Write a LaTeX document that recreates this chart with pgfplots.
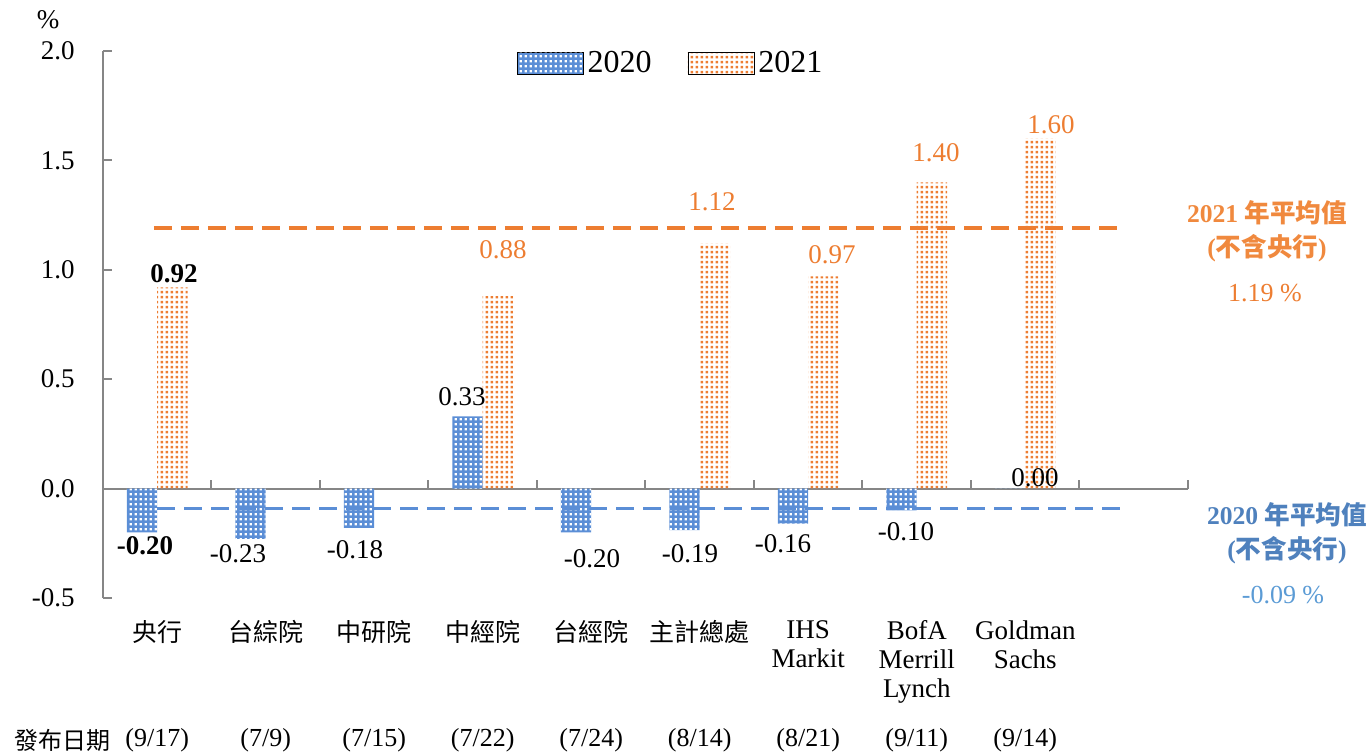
\documentclass[border=0pt]{standalone}
\usepackage{pgfplots}
\pgfplotsset{compat=1.18}
\usepackage{fontspec}
\setmainfont{Liberation Serif}
\newfontfamily\cjk{Noto Sans CJK TC}
\usetikzlibrary{patterns.meta}
\definecolor{barblue}{RGB}{91,142,214}
\definecolor{barorange}{RGB}{237,125,49}
\definecolor{axgray}{RGB}{134,134,134}
\definecolor{annblue}{RGB}{79,129,189}
\definecolor{lblblue}{RGB}{91,155,213}
\definecolor{annorange}{RGB}{240,137,62}
\tikzdeclarepattern{
  name=sqdots,
  type=uncolored,
  bounding box={(0,0) and (2.6pt,2.6pt)},
  tile size={(2.6pt,2.6pt)},
  code={\pgfpathrectangle{\pgfpoint{0.4pt}{0.4pt}}{\pgfpoint{1.25pt}{1.25pt}}\pgfusepath{fill}}
}
\tikzdeclarepattern{
  name=sqdotsb,
  type=uncolored,
  bounding box={(0,0) and (2.5pt,2.5pt)},
  tile size={(2.5pt,2.5pt)},
  code={\pgfpathrectangle{\pgfpoint{0.3pt}{0.3pt}}{\pgfpoint{1.5pt}{1.5pt}}\pgfusepath{fill}}
}
\pgfplotsset{
  mylegend/.style={legend image code/.code={\draw[##1] (0pt,-5.5pt) rectangle (33pt,5.5pt);}},
}
\tikzset{lbl/.style={font=\fontsize{13.5}{16}\selectfont}}
\begin{document}
\begin{tikzpicture}
\path[use as bounding box] (-51.5pt,-78pt) rectangle (634.5pt,299pt);
\begin{axis}[
  at={(0pt,0pt)}, anchor=south west,
  scale only axis, width=542.5pt, height=273.5pt,
  xmin=-0.5, xmax=9.5, ymin=-0.5, ymax=2.0,
  axis lines*=left,
  x axis line style={draw=none},
  y axis line style={axgray, line width=1pt},
  ytick={-0.5,0,0.5,1,1.5,2},
  yticklabels={-0.5,0.0,0.5,1.0,1.5,2.0},
  ytick style={axgray, line width=1pt},
  tick align=inside,
  major tick length=4.5pt,
  yticklabel style={anchor=east, inner sep=0pt, xshift=-14pt, font=\fontsize{13.5}{16}\selectfont},
  xtick={0,...,8},
  xticklabels={{\cjk\fontsize{12.5}{14.5}\selectfont 央行},{\cjk\fontsize{12.5}{14.5}\selectfont 台綜院},{\cjk\fontsize{12.5}{14.5}\selectfont 中研院},{\cjk\fontsize{12.5}{14.5}\selectfont 中經院},{\cjk\fontsize{12.5}{14.5}\selectfont 台經院},{\cjk\fontsize{12.5}{14.5}\selectfont 主計總處},{IHS\\Markit},{BofA\\Merrill\\Lynch},{Goldman\\Sachs}},
  xtick style={draw=none},
  xticklabel style={anchor=north, inner sep=0pt, yshift=-11pt, align=center, font=\fontsize{13.5}{14.5}\selectfont},
  clip=false,
  legend style={draw=none, fill=none, at={(rel axis cs:0.524,0.978)}, anchor=center, legend columns=2,
    font=\fontsize{16}{18}\selectfont, /tikz/every even column/.append style={column sep=16pt}},
]
\draw[axgray, line width=1pt] (axis cs:-0.5,0) -- (axis cs:9.5,0);
\pgfplotsinvokeforeach{0.5,1.5,2.5,3.5,4.5,5.5,6.5,7.5,8.5,9.5}{
  \draw[axgray, line width=1pt] (axis cs:#1,0) -- (axis cs:#1,0.04);
}
\addplot[ybar, mylegend, bar width=0.28, bar shift=-0.14, draw=none, fill=barblue,
  postaction={pattern=sqdots, pattern color=white}]
  coordinates {(0,-0.20) (1,-0.23) (2,-0.18) (3,0.33) (4,-0.20) (5,-0.19) (6,-0.16) (7,-0.10) (8,0.00)};
\addlegendentry{2020}
\addplot[ybar, mylegend, bar width=0.28, bar shift=0.14, draw=none,
  pattern=sqdotsb, pattern color=barorange]
  coordinates {(0,0.92) (3,0.88) (5,1.12) (6,0.97) (7,1.40) (8,1.60)};
\addlegendentry{2021}
\addplot[barorange, line width=2pt, dash pattern=on 9pt off 4.5pt, forget plot]
  coordinates {(-0.03,1.19) (8.92,1.19)};
\addplot[barblue, line width=1.6pt, dash pattern=on 9pt off 4.5pt, forget plot]
  coordinates {(0,-0.09) (8.92,-0.09)};
% 2020 labels
\node[font=\bfseries\fontsize{13.5}{16}\selectfont] at (axis cs:-0.113,-0.26) {-0.20};
\node[lbl] at (axis cs:0.744,-0.297) {-0.23};
\node[lbl] at (axis cs:1.823,-0.279) {-0.18};
\node[lbl] at (axis cs:2.809,0.42) {0.33};
\node[lbl] at (axis cs:4.007,-0.32) {-0.20};
\node[lbl] at (axis cs:4.910,-0.297) {-0.19};
\node[lbl] at (axis cs:5.767,-0.251) {-0.16};
\node[lbl] at (axis cs:6.901,-0.197) {-0.10};
\node[lbl] at (axis cs:8.09,0.05) {0.00};
% 2021 labels
\node[font=\bfseries\fontsize{13.5}{16}\selectfont] at (axis cs:0.154,0.983) {0.92};
\node[lbl, barorange] at (axis cs:3.187,1.092) {0.88};
\node[lbl, barorange] at (axis cs:5.113,1.311) {1.12};
\node[lbl, barorange] at (axis cs:6.219,1.069) {0.97};
\node[lbl, barorange] at (axis cs:7.177,1.536) {1.40};
\node[lbl, barorange] at (axis cs:8.237,1.664) {1.60};
\end{axis}
\node[font=\fontsize{13.5}{16}\selectfont] at (-27.5pt,289pt) {\%};
% dates
\node[font=\fontsize{12}{14}\selectfont\cjk] at (-20.5pt,-71pt) {發布日期};
\begin{scope}[every node/.style={font=\fontsize{13}{15}\selectfont}]
\node at (27.125pt,-71pt) {(9/17)};
\node at (81.375pt,-71pt) {(7/9)};
\node at (135.625pt,-71pt) {(7/15)};
\node at (189.875pt,-71pt) {(7/22)};
\node at (244.125pt,-71pt) {(7/24)};
\node at (298.375pt,-71pt) {(8/14)};
\node at (352.625pt,-71pt) {(8/21)};
\node at (406.875pt,-71pt) {(9/11)};
\node at (461.125pt,-71pt) {(9/14)};
\end{scope}
% annotations
\node[annorange, font=\bfseries\fontsize{12.8}{15}\selectfont] at (582pt,192.5pt) {2021 {\cjk 年平均值}};
\node[annorange, font=\bfseries\fontsize{12.8}{15}\selectfont] at (582pt,175pt) {({\cjk 不含央行})};
\node[barorange, font=\fontsize{13}{15}\selectfont] at (581pt,152.5pt) {1.19 \%};
\node[annblue, font=\bfseries\fontsize{12.8}{15}\selectfont] at (592pt,41.5pt) {2020 {\cjk 年平均值}};
\node[annblue, font=\bfseries\fontsize{12.8}{15}\selectfont] at (592pt,24pt) {({\cjk 不含央行})};
\node[lblblue, font=\fontsize{13}{15}\selectfont] at (590pt,1.5pt) {-0.09 \%};
\end{tikzpicture}
\end{document}
